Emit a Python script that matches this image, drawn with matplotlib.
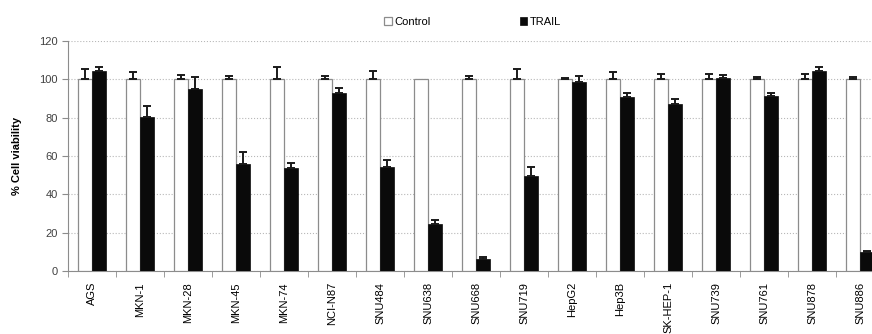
import matplotlib
matplotlib.use('Agg')
import matplotlib.pyplot as plt
import numpy as np

plt.rcParams['font.family'] = ['Liberation Sans', 'DejaVu Sans']

# data
cellLines = ['AGS', 'MKN-1', 'MKN-28', 'MKN-45', 'MKN-74', 'NCI-N87', 'SNU484', 'SNU638',
             'SNU668', 'SNU719', 'HepG2', 'Hep3B', 'SK-HEP-1', 'SNU739', 'SNU761', 'SNU878', 'SNU886']
control = [100, 100, 100, 100, 100, 100, 100, 100, 100, 100, 100, 100, 100, 100, 100, 100, 100]
controlErr = [5.5, 4, 2.5, 2, 6.5, 1.5, 4.5, 0, 2, 5.5, 0.8, 4, 3, 3, 1, 3, 1]
trail = [104.5, 80.5, 95, 56, 54, 93, 54.5, 24.5, 6.5, 49.5, 98.5, 91, 87, 100.5, 91.5, 104.5, 10]
trailErr = [2, 5.5, 6, 6, 2.5, 2.5, 3.5, 2, 0.7, 5, 3.5, 2, 3, 2, 1.5, 2, 0.5]

fig = plt.figure(figsize=(8.72, 3.34), dpi=100)
ax = fig.add_axes([68/872, 63/334, 816/872, 230/334])

x = np.arange(len(cellLines))
w = 0.29

ax.bar(x - w/2, control, w, color='white', edgecolor='#8c8c8c', linewidth=0.9, label='Control', zorder=3)
ax.bar(x + w/2, trail, w, color='#0a0a0a', edgecolor='#0a0a0a', linewidth=0.5, label='TRAIL', zorder=3)

# only draw error bars where there is an error
def drawErr(xs, vals, errs):
    idx = [i for i in range(len(errs)) if errs[i] > 0]
    ax.errorbar([xs[i] for i in idx], [vals[i] for i in idx],
                yerr=[[0]*len(idx), [errs[i] for i in idx]], fmt='none', ecolor='#1a1a1a',
                elinewidth=1.4, capsize=2.8, capthick=1.4, zorder=4)

drawErr(x - w/2, control, controlErr)
drawErr(x + w/2, trail, trailErr)

ax.set_xlim(-0.5, len(x) - 0.5)
ax.set_ylim(0, 120)
ax.set_yticks(range(0, 121, 20))
ax.yaxis.grid(True, linestyle=':', color='#b8b8b8', linewidth=0.8, zorder=0)

ax.set_xticks(x)
ax.set_xticklabels(cellLines, rotation=90, fontsize=8)
ax.set_xticks(np.arange(-0.5, len(x)), minor=True)
ax.tick_params(axis='x', which='major', length=0, pad=8)
ax.tick_params(axis='x', which='minor', length=4, color='#8c8c8c')
ax.tick_params(axis='y', labelsize=8, labelcolor='#404040', length=4, color='#8c8c8c')

for s in ['top', 'right']:
    ax.spines[s].set_visible(False)
for s in ['left', 'bottom']:
    ax.spines[s].set_color('#8c8c8c')

ax.set_ylabel('% Cell viability', fontsize=8, fontweight='bold', labelpad=12)

fig.legend(loc='upper center', bbox_to_anchor=(0.542, 0.98), ncol=2, frameon=False,
           fontsize=8, handlelength=0.7, handleheight=0.7, columnspacing=8, handletextpad=0.2)

fig.savefig('out.png', dpi=100)
